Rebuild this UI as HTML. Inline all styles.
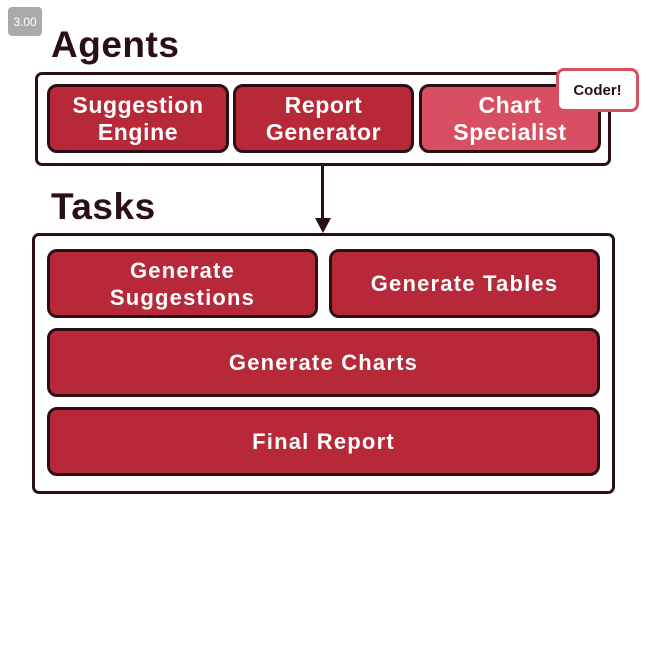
<!DOCTYPE html>
<html><head><style>
body{margin:0;width:647px;height:659px;background:#fff;position:relative;font-family:"Liberation Sans",sans-serif;overflow:hidden}
.a{position:absolute;box-sizing:border-box}
.box{border:3px solid #2a1014;border-radius:7px;background:#fff}
.c{border:3px solid #2a1014;border-radius:10px;background:#b72838;color:#fff;font-weight:bold;display:flex;align-items:center;justify-content:center;text-align:center;line-height:27px;font-size:23px;letter-spacing:0.6px}
.t{font-size:22px;letter-spacing:1.2px}
h1{position:absolute;margin:0;font-size:37px;font-weight:bold;color:#2a1014;letter-spacing:0.5px}
</style></head><body>
<div class="a" style="left:8px;top:7px;width:34px;height:29px;background:#aaa;border-radius:4px;color:#fff;font-size:12px;display:flex;align-items:center;justify-content:center">3.00</div>
<h1 style="left:51px;top:24px">Agents</h1>
<div class="a box" style="left:35px;top:72px;width:576px;height:94px"></div>
<div class="a c" style="left:47px;top:84px;width:182px;height:69px">Suggestion<br>Engine</div>
<div class="a c" style="left:233px;top:84px;width:181px;height:69px">Report<br>Generator</div>
<div class="a c" style="left:419px;top:84px;width:182px;height:69px;background:#d94f62">Chart<br>Specialist</div>
<div class="a" style="left:556px;top:68px;width:83px;height:44px;background:#fff;border:3px solid #d94f62;border-radius:8px;font-weight:bold;font-size:15px;color:#2a1014;display:flex;align-items:center;justify-content:center">Coder!</div>
<div class="a" style="left:321px;top:166px;width:3px;height:56px;background:#2a1014"></div>
<div class="a" style="left:315px;top:218px;width:0;height:0;border-left:8px solid transparent;border-right:8px solid transparent;border-top:15px solid #2a1014"></div>
<h1 style="left:51px;top:186px">Tasks</h1>
<div class="a box" style="left:32px;top:233px;width:583px;height:261px"></div>
<div class="a c t" style="left:47px;top:249px;width:271px;height:69px">Generate<br>Suggestions</div>
<div class="a c t" style="left:329px;top:249px;width:271px;height:69px">Generate Tables</div>
<div class="a c t" style="left:47px;top:328px;width:553px;height:69px">Generate Charts</div>
<div class="a c t" style="left:47px;top:407px;width:553px;height:69px">Final Report</div>
</body></html>
